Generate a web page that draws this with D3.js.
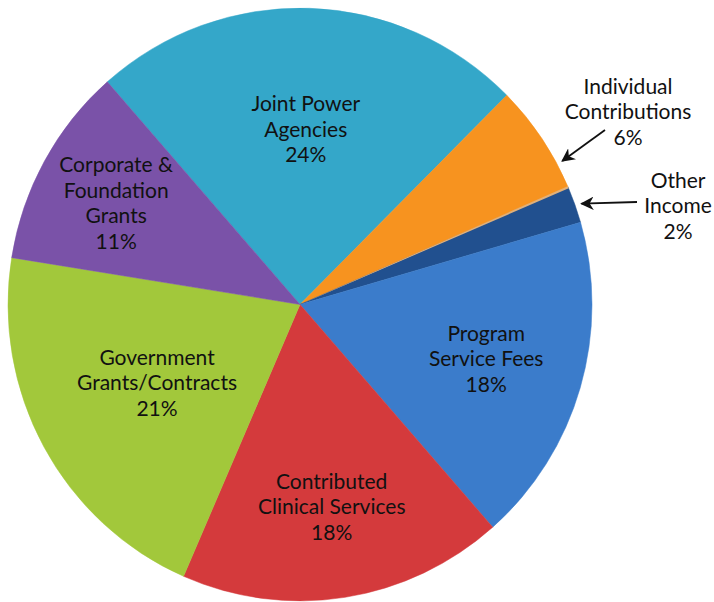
<!DOCTYPE html>
<html>
<head>
<meta charset="utf-8">
<script src="https://cdn.jsdelivr.net/npm/d3@7"></script>
<style>
  body { margin: 0; background: #fff; }
  svg text { font-family: Lato, "Open Sans", sans-serif; fill: #111; }
</style>
</head>
<body>
<div id="chart"></div>
<script>
// Données du graphique
const categories = ["Joint Power Agencies", "Individual Contributions", "Other Income",
  "Program Service Fees", "Contributed Clinical Services", "Government Grants/Contracts",
  "Corporate & Foundation Grants"];
const values = [24, 6, 2, 18, 18, 21, 11];
const labelLines = [
  ["Joint Power", "Agencies"],
  ["Individual", "Contributions"],
  ["Other", "Income"],
  ["Program", "Service Fees"],
  ["Contributed", "Clinical Services"],
  ["Government", "Grants/Contracts"],
  ["Corporate &", "Foundation", "Grants"]
];
const percentLabels = ["24%", "6%", "2%", "18%", "18%", "21%", "11%"];

const width = 714, height = 602;
const cx = 300, cy = 304.5, radius = 292;
const lineHeight = 25.5;

const color = d3.scaleOrdinal()
  .domain(categories)
  .range(["#34a7c9", "#f7931f", "#21508f", "#3b7ccb", "#d43a3c", "#a2c83b", "#7a52a8"]);

// distance du centre pour les étiquettes intérieures
const insideRadius = { 0: 175, 3: 194, 4: 205, 5: 163, 6: 210 };
// étiquettes extérieures avec flèche
const outside = {
  1: { x: 628, y: 112, tail: [605, 130], at: 0.75 },
  2: { x: 678, y: 206, tail: [637, 202], at: 0.5 }
};

const svg = d3.select("#chart").append("svg")
  .attr("width", width)
  .attr("height", height);

svg.append("defs").append("marker")
  .attr("id", "arrow")
  .attr("viewBox", "0 0 10 10")
  .attr("refX", 9).attr("refY", 5)
  .attr("markerWidth", 7.5).attr("markerHeight", 7.5)
  .attr("orient", "auto")
  .append("path")
  .attr("d", "M0,0 L10,5 L0,10 L3,5 z")
  .attr("fill", "#111");

const pie = d3.pie()
  .sort(null)
  .startAngle(-41.3 * Math.PI / 180)
  .endAngle((360 - 41.3) * Math.PI / 180)
  .value(d => d);

const arcs = pie(values);
const arc = d3.arc().innerRadius(0).outerRadius(radius);

const g = svg.append("g")
  .attr("transform", `translate(${cx},${cy}) scale(1,1.015)`);

g.selectAll("path.slice")
  .data(arcs)
  .join("path")
  .attr("class", "slice")
  .attr("d", arc)
  .attr("fill", (d, i) => color(categories[i]))
  .attr("stroke", (d, i) => color(categories[i]))
  .attr("stroke-width", 0.5);

// petit liseré clair entre orange et bleu foncé
g.append("path")
  .attr("d", d3.arc().innerRadius(0).outerRadius(radius)
    .startAngle(arcs[2].startAngle - 0.004).endAngle(arcs[2].startAngle + 0.004)())
  .attr("fill", "#e0b07a");

function polar(a, r) {
  return [cx + r * Math.sin(a), cy - r * Math.cos(a)];
}

function drawBlock(x, y, lines) {
  const n = lines.length;
  const t = svg.append("text")
    .attr("text-anchor", "middle")
    .attr("font-size", 21);
  lines.forEach((l, k) => {
    t.append("tspan")
      .attr("x", x)
      .attr("y", y + (k - (n - 1) / 2) * lineHeight)
      .attr("dy", "0.35em")
      .text(l);
  });
}

arcs.forEach((d, i) => {
  const lines = labelLines[i].concat([percentLabels[i]]);
  if (insideRadius[i] !== undefined) {
    const mid = (d.startAngle + d.endAngle) / 2;
    const [x, y] = polar(mid, insideRadius[i]);
    drawBlock(x, y, lines);
  } else {
    const o = outside[i];
    drawBlock(o.x, o.y, lines);
    const a = d.startAngle + o.at * (d.endAngle - d.startAngle);
    const tip = polar(a, radius + 7);
    svg.append("line")
      .attr("x1", o.tail[0]).attr("y1", o.tail[1])
      .attr("x2", tip[0]).attr("y2", tip[1])
      .attr("stroke", "#111")
      .attr("stroke-width", 1.8)
      .attr("marker-end", "url(#arrow)");
  }
});
</script>
</body>
</html>
